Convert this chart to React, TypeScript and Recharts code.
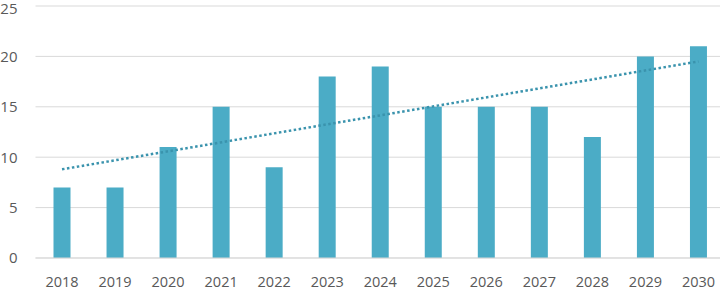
import React from "react";
import { ComposedChart, Bar, Line, XAxis, YAxis, CartesianGrid } from "recharts";

const categories = ["2018", "2019", "2020", "2021", "2022", "2023", "2024", "2025", "2026", "2027", "2028", "2029", "2030"];
const values = [7, 7, 11, 15, 9, 18, 19, 15, 15, 15, 12, 20, 21];
// trendline endpoints (first and last category)
const trendStart = 8.8;
const trendEnd = 19.5;
const yTicks = [0, 5, 10, 15, 20, 25];

const data = categories.map((c, i) => ({
  year: c,
  value: values[i],
  trend: i === 0 ? trendStart : i === categories.length - 1 ? trendEnd : null,
}));

const font = "'Open Sans', sans-serif";

export default function App() {
  return (
    <div style={{ position: "absolute", left: 0, top: 0, width: 720, height: 289, overflow: "hidden", background: "#fff" }}>
      <ComposedChart
        width={725}
        height={289}
        data={data}
        margin={{ top: 6, right: 0, left: 0, bottom: 0 }}
        barCategoryGap={0}
      >
        <CartesianGrid vertical={false} stroke="#D9D9D9" strokeWidth={1} />
        <XAxis
          dataKey="year"
          height={31}
          axisLine={{ stroke: "#D9D9D9" }}
          tickLine={false}
          tickSize={0}
          tickMargin={18.5}
          interval={0}
          tick={{ fill: "#595959", fontSize: 14.5, fontFamily: font }}
        />
        <YAxis
          domain={[0, 25]}
          ticks={yTicks}
          width={35.5}
          axisLine={false}
          tickLine={false}
          tickSize={0}
          tickMargin={18}
          tick={{ fill: "#595959", fontSize: 15, fontFamily: font }}
        />
        <Line
          dataKey="trend"
          connectNulls
          stroke="#3A93AD"
          strokeWidth={2.5}
          strokeDasharray="2.5 2.5"
          dot={false}
          activeDot={false}
          isAnimationActive={false}
        />
        <Bar dataKey="value" fill="#4BACC6" barSize={17} isAnimationActive={false} />
      </ComposedChart>
    </div>
  );
}
